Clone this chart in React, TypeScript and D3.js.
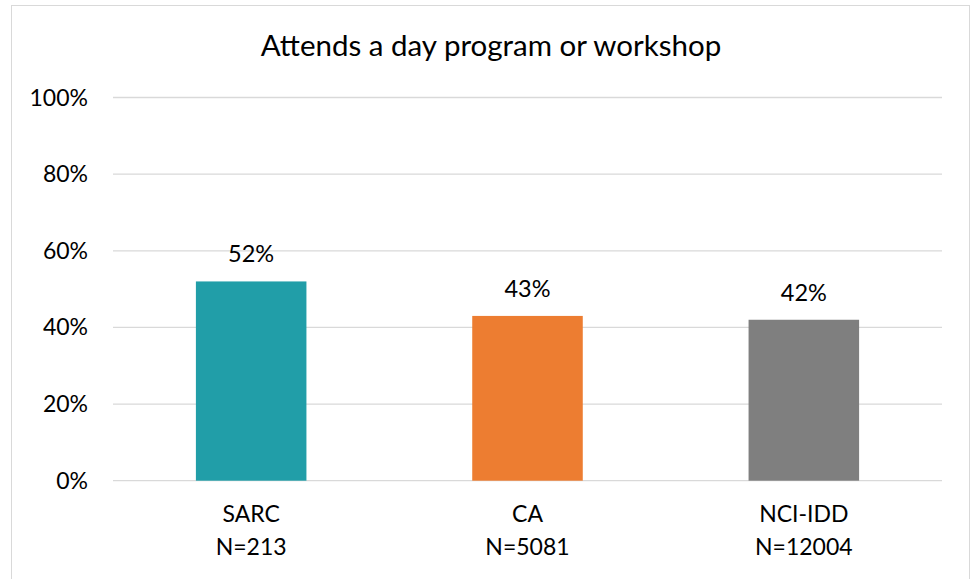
import React from "react";
import * as d3 from "d3";

const categories = ["SARC", "CA", "NCI-IDD"];
const sampleSizes = ["N=213", "N=5081", "N=12004"];
const values = [0.52, 0.43, 0.42];
const colors = ["#219EA8", "#ED7D31", "#7F7F7F"];
const yTicks = [0, 0.2, 0.4, 0.6, 0.8, 1.0];
const title = "Attends a day program or workshop";

const W = 980;
const H = 579;
const FONT = "Lato, 'Open Sans', sans-serif";

export default function App() {
  const x = d3.scaleBand<string>().domain(categories).range([113, 942]).paddingInner(0.6).paddingOuter(0.3);
  const y = d3.scaleLinear().domain([0, 1]).range([480.7, 97.5]);
  const fmt = d3.format(".0%");
  return (
    <svg width={W} height={H} style={{ position: "absolute", left: 0, top: 0, background: "#fff" }}>
      <rect x={11.5} y={5.5} width={958} height={H} fill="#fff" stroke="#d9d9d9" strokeWidth={1} />
      <text x={491} y={56} textAnchor="middle" fontFamily={FONT} fontSize={29.5} fill="#000">
        {title}
      </text>
      {yTicks.map((t) => (
        <g key={t}>
          <line x1={113} x2={942} y1={y(t)} y2={y(t)} stroke="#d9d9d9" strokeWidth={1.3} />
          <text x={88} y={y(t)} dy="0.35em" textAnchor="end" fontFamily={FONT} fontSize={23} fill="#000">
            {fmt(t)}
          </text>
        </g>
      ))}
      {categories.map((c, i) => (
        <g key={c}>
          <rect x={x(c)} y={y(values[i])} width={x.bandwidth()} height={y(0) - y(values[i])} fill={colors[i]} />
          <text x={x(c)! + x.bandwidth() / 2} y={y(values[i]) - 19} textAnchor="middle" fontFamily={FONT} fontSize={23.5} fill="#000">
            {fmt(values[i])}
          </text>
          <text x={x(c)! + x.bandwidth() / 2} y={522} textAnchor="middle" fontFamily={FONT} fontSize={23} fill="#000">
            {c}
          </text>
          <text x={x(c)! + x.bandwidth() / 2} y={555} textAnchor="middle" fontFamily={FONT} fontSize={23} fill="#000">
            {sampleSizes[i]}
          </text>
        </g>
      ))}
    </svg>
  );
}
